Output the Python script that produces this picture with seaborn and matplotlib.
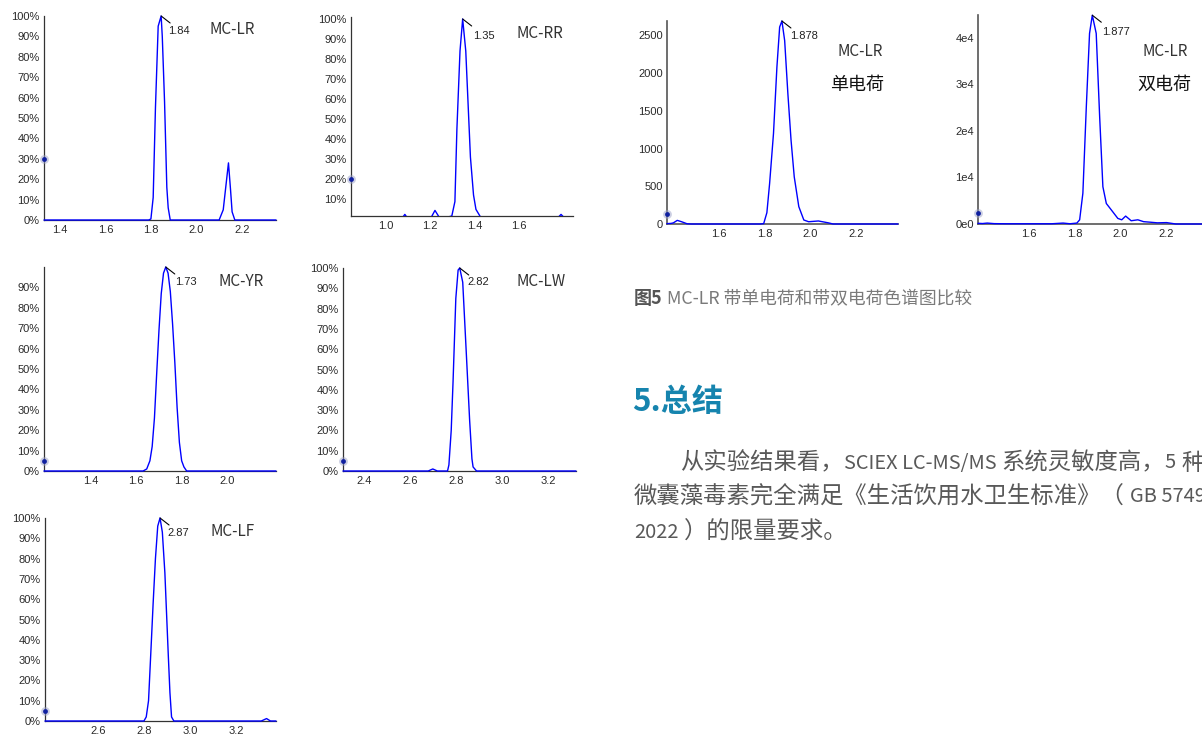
import numpy as np
import pandas as pd
import matplotlib
matplotlib.use("Agg")
import matplotlib.pyplot as plt
import seaborn as sns

sns.set_theme(style="white")
plt.rcParams['font.family'] = ['Liberation Sans', 'DejaVu Sans']

# ---------------- data ----------------
# MC-LR (relative %)
lr_t = [1.33, 1.79, 1.80, 1.81, 1.82, 1.832, 1.845, 1.85, 1.86, 1.87, 1.876, 1.885, 2.10, 2.118, 2.13, 2.141, 2.15, 2.157, 2.169, 2.35]
lr_i = [0, 0, 0.5, 11, 55, 95, 100, 90, 58, 16, 6, 0, 0, 5, 17, 28, 15, 4, 0, 0]
# MC-RR
rr_t = [0.842, 1.07, 1.085, 1.10, 1.20, 1.221, 1.245, 1.297, 1.311, 1.32, 1.334, 1.346, 1.36, 1.381, 1.395, 1.406, 1.432, 1.77, 1.79, 1.81, 1.844]
rr_i = [0, 0, 2.3, 0, 0, 4.3, 0, 1.5, 8.7, 45, 84, 100, 84, 31, 12, 4.8, 0, 0, 2.3, 0, 0]
# MC-YR
yr_t = [1.193, 1.63, 1.646, 1.66, 1.67, 1.68, 1.69, 1.70, 1.71, 1.72, 1.73, 1.74, 1.75, 1.76, 1.77, 1.78, 1.79, 1.80, 1.81, 1.822, 2.216]
yr_i = [0, 0, 1, 5, 12, 26, 48, 69, 87, 97, 100, 97, 88, 72, 53, 31, 14, 5, 2, 0, 0]
# MC-LW
lw_t = [2.31, 2.68, 2.70, 2.72, 2.764, 2.77, 2.78, 2.788, 2.80, 2.81, 2.817, 2.83, 2.846, 2.86, 2.87, 2.875, 2.89, 3.322]
lw_i = [0, 0, 1, 0, 0, 3, 20, 44, 85, 99, 100, 93, 57, 25, 6, 2, 0, 0]
# MC-LF
lf_t = [2.37, 2.80, 2.81, 2.82, 2.833, 2.84, 2.85, 2.86, 2.87, 2.88, 2.891, 2.906, 2.913, 2.92, 2.93, 3.31, 3.333, 3.35, 3.374]
lf_i = [0, 0, 2, 10, 41, 58, 80, 96, 100, 93, 73, 32, 14, 2, 0, 0, 1.2, 0, 0]
# MC-LR single charge (counts)
s_t = [1.372, 1.39, 1.40, 1.417, 1.436, 1.46, 1.48, 1.78, 1.796, 1.81, 1.822, 1.839, 1.854, 1.866, 1.876, 1.888, 1.902, 1.916, 1.93, 1.95, 1.972, 1.993, 2.036, 2.08, 2.10, 2.385]
s_i = [5, 8, 15, 48, 30, 3, 0, 0, 5, 150, 538, 1200, 2080, 2610, 2690, 2430, 1730, 1110, 625, 230, 53, 30, 40, 15, 0, 0]
# MC-LR double charge (counts)
d_t = [1.38, 1.40, 1.42, 1.45, 1.50, 1.60, 1.70, 1.75, 1.78, 1.81, 1.822, 1.836, 1.851, 1.865, 1.877, 1.894, 1.909, 1.923, 1.938, 1.96, 1.988, 2.005, 2.022, 2.046, 2.075, 2.10, 2.126, 2.16, 2.20, 2.24, 2.45]
d_i = [150, 100, 200, 80, 50, 50, 50, 200, 50, 200, 900, 6600, 25200, 40900, 44800, 40900, 23000, 8000, 4400, 3000, 1200, 900, 1700, 700, 900, 500, 400, 250, 300, 0, 0]

pct_ticks = [0, 10, 20, 30, 40, 50, 60, 70, 80, 90, 100]
pct_labels = [f"{v}%" for v in pct_ticks]
s_ticks = [0, 500, 1000, 1500, 2000, 2500]
d_ticks = [0, 10000, 20000, 30000, 40000]
d_labels = ["0e0", "1e4", "2e4", "3e4", "4e4"]

# article text pieces: (text, is_latin)
para_line1 = [("从实验结果看，", False), ("SCIEX LC-MS/MS", True), (" ", None), ("系统灵敏度高，", False),
              ("5", True), (" ", None), ("种", False)]
para_line2 = [("微囊藻毒素完全满足《生活饮用水卫生标准》（", False), (" ", None), ("GB 5749-", True)]
para_line3 = [("2022", True), (" ", None), ("）的限量要求。", False)]

# ---------------- figure ----------------
W, H = 1202, 736
fig = plt.figure(figsize=(W / 100, H / 100), dpi=100)
fig.patch.set_facecolor("white")


def add_ax(l, t, r, b):
    return fig.add_axes([l / W, 1 - b / H, (r - l) / W, (b - t) / H])


def ftext(x, y, s, **kw):
    return fig.text(x / W, 1 - y / H, s, **kw)


CJK = ['Noto Sans CJK SC', 'DejaVu Sans']
TICKC = '#2a2a2a'


def style(ax, xlim, ylim, xticks, yticks, ylabels=None, spine_c='#333333', spine_w=0.9):
    ax.set_xlim(*xlim)
    ax.set_ylim(*ylim)
    ax.set_xticks(xticks)
    ax.set_xticklabels([f"{v:.1f}" for v in xticks])
    ax.set_yticks(yticks)
    if ylabels is not None:
        ax.set_yticklabels(ylabels)
    ax.tick_params(axis='both', length=0, labelsize=8, labelcolor=TICKC)
    ax.tick_params(axis='x', pad=3.5)
    ax.tick_params(axis='y', pad=3)
    for sp in ['top', 'right']:
        ax.spines[sp].set_visible(False)
    for sp in ['left', 'bottom']:
        ax.spines[sp].set_color(spine_c)
        ax.spines[sp].set_linewidth(spine_w)
    ax.set_xlabel("")
    ax.set_ylabel("")
    ax.patch.set_alpha(0)
    ax.grid(False)


def trace(ax, t, i, clip=False):
    df = pd.DataFrame({"t": t, "i": i})
    sns.lineplot(data=df, x="t", y="i", ax=ax, color="#0000ff", linewidth=1.0,
                 estimator=None, sort=False)
    for ln in ax.lines:
        ln.set_clip_on(clip)
        ln.set_zorder(3)


def marker(ax, y):
    x0 = ax.get_xlim()[0]
    ax.scatter([x0], [y], s=40, color='#9aa0c8', alpha=0.5, zorder=5, clip_on=False, linewidths=0)
    ax.scatter([x0], [y], s=12, color='#1020a0', zorder=6, clip_on=False, linewidths=0)


def leader(ax, xp, yp):
    ax.annotate('', xy=(xp, yp), xycoords='data', xytext=(9, -7), textcoords='offset pixels',
                arrowprops=dict(arrowstyle='-', color='black', lw=0.8, shrinkA=0, shrinkB=0),
                annotation_clip=False)


# Panel 1: MC-LR
ax1 = add_ax(44, 16, 276, 220)
trace(ax1, lr_t, lr_i)
style(ax1, (1.33, 2.35), (0, 100), [1.4, 1.6, 1.8, 2.0, 2.2], pct_ticks, pct_labels)
marker(ax1, 30)
leader(ax1, 1.845, 100)
ftext(168, 31, "1.84", fontsize=8, va='center', ha='left', color='#222')
ftext(209, 29, "MC-LR", fontsize=11, va='center', ha='left', color='#333', family=CJK)

# Panel 2: MC-RR
ax2 = add_ax(351, 17, 573, 216)
trace(ax2, rr_t, rr_i, clip=True)
style(ax2, (0.842, 1.844), (1.5, 101), [1.0, 1.2, 1.4, 1.6], pct_ticks[1:], pct_labels[1:])
marker(ax2, 20)
leader(ax2, 1.346, 100)
ftext(473, 36, "1.35", fontsize=8, va='center', ha='left', color='#222')
ftext(517, 33, "MC-RR", fontsize=11, va='center', ha='left', color='#333', family=CJK)

# Panel 3: MC-YR
ax3 = add_ax(44, 267, 276, 471)
trace(ax3, yr_t, yr_i)
style(ax3, (1.193, 2.216), (0, 100), [1.4, 1.6, 1.8, 2.0], pct_ticks[:-1], pct_labels[:-1])
marker(ax3, 5)
leader(ax3, 1.73, 100)
ftext(175, 282, "1.73", fontsize=8, va='center', ha='left', color='#222')
ftext(218, 282, "MC-YR", fontsize=11, va='center', ha='left', color='#333', family=CJK)

# Panel 4: MC-LW
ax4 = add_ax(343, 268, 576, 471)
trace(ax4, lw_t, lw_i)
style(ax4, (2.31, 3.322), (0, 100), [2.4, 2.6, 2.8, 3.0, 3.2], pct_ticks, pct_labels)
marker(ax4, 5)
leader(ax4, 2.817, 100)
ftext(467, 282, "2.82", fontsize=8, va='center', ha='left', color='#222')
ftext(517, 282, "MC-LW", fontsize=11, va='center', ha='left', color='#333', family=CJK)

# Panel 5: MC-LF
ax5 = add_ax(45, 518, 276, 721)
trace(ax5, lf_t, lf_i)
style(ax5, (2.37, 3.374), (0, 100), [2.6, 2.8, 3.0, 3.2], pct_ticks, pct_labels)
marker(ax5, 5)
leader(ax5, 2.87, 100)
ftext(167, 533, "2.87", fontsize=8, va='center', ha='left', color='#222')
ftext(210, 531, "MC-LF", fontsize=11, va='center', ha='left', color='#333', family=CJK)

# Panel 6: single charge
ax6 = add_ax(667, 21, 898, 224)
trace(ax6, s_t, s_i)
style(ax6, (1.372, 2.385), (0, 2690), [1.6, 1.8, 2.0, 2.2], s_ticks, [str(v) for v in s_ticks],
      spine_c='#555555', spine_w=1.2)
marker(ax6, 128)
leader(ax6, 1.876, 2690)
ftext(790, 36, "1.878", fontsize=8, va='center', ha='left', color='#222')
ftext(837, 52, "MC-LR", fontsize=11, va='center', ha='left', color='#333', family=CJK)
ftext(830, 85, "单电荷", fontsize=13, va='center', ha='left', color='#111', family=CJK)

# Panel 7: double charge
ax7 = add_ax(978, 15, 1225, 224)
trace(ax7, d_t, d_i)
style(ax7, (1.38, 2.454), (0, 44850), [1.6, 1.8, 2.0, 2.2], d_ticks, d_labels,
      spine_c='#555555', spine_w=1.2)
marker(ax7, 2300)
leader(ax7, 1.877, 44800)
ftext(1102, 32, "1.877", fontsize=8, va='center', ha='left', color='#222')
ftext(1143, 52, "MC-LR", fontsize=11, va='center', ha='left', color='#333', family=CJK)
ftext(1137, 85, "双电荷", fontsize=13, va='center', ha='left', color='#111', family=CJK)

# ---------------- article text ----------------
ftext(634, 299, "图5", fontsize=13.0, fontweight='bold', va='center', ha='left', color='#555555', family=CJK)
ftext(667, 299, "MC-LR 带单电荷和带双电荷色谱图比较", fontsize=12.8, va='center', ha='left',
      color='#7a7a7a', family=CJK)

ftext(632, 402, "5.总结", fontsize=22.4, fontweight='bold', va='center', ha='left', color='#1684ae', family=CJK)

para_c = '#595959'
renderer = fig.canvas.get_renderer()


def draw_line(x, y, pieces, cjk_size=16.8, latin_size=14.4, gap=5):
    for s, latin in pieces:
        if latin is None:
            x += gap
            continue
        t = ftext(x, y, s, fontsize=latin_size if latin else cjk_size, va='center', ha='left',
                  color=para_c, family=CJK)
        bb = t.get_window_extent(renderer)
        x += bb.width


draw_line(680, 463, para_line1)
draw_line(634, 497, para_line2)
draw_line(634, 532, para_line3)

fig.savefig("out.png", dpi=100, facecolor="white")
